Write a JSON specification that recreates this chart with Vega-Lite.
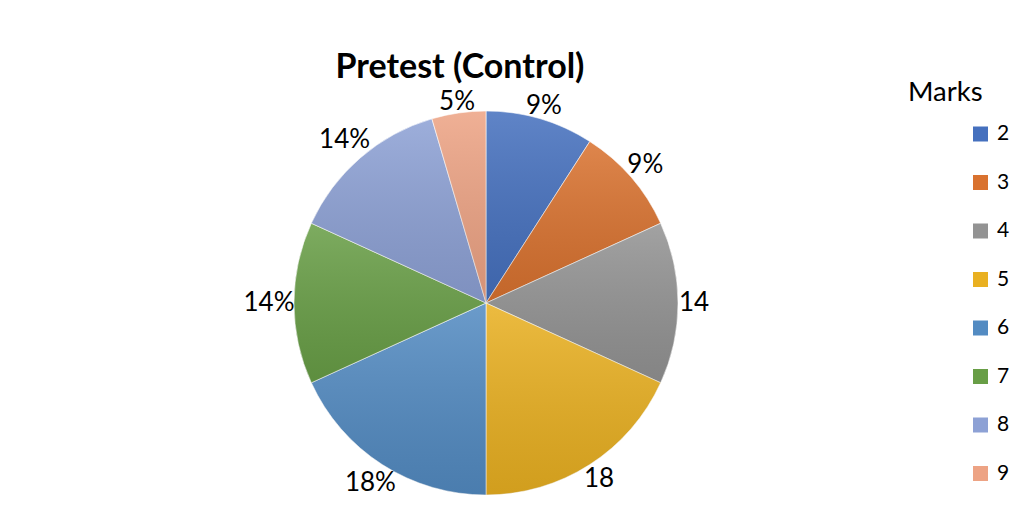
{
  "$schema": "https://vega.github.io/schema/vega-lite/v6.json",
  "autosize": "none",
  "width": 384,
  "height": 384,
  "padding": {"left": 294, "top": 111, "right": 345, "bottom": 22},
  "background": "white",
  "title": {
    "text": "Pretest (Control)",
    "frame": "group",
    "anchor": "middle",
    "orient": "top",
    "offset": 30,
    "dx": -26,
    "dy": 36,
    "font": "Lato",
    "fontSize": 34,
    "fontWeight": "bold",
    "color": "#000000"
  },
  "data": {
    "values": [
      {"Marks": "2", "Count": 2, "Label": "9%"},
      {"Marks": "3", "Count": 2, "Label": "9%"},
      {"Marks": "4", "Count": 3, "Label": "14"},
      {"Marks": "5", "Count": 4, "Label": "18"},
      {"Marks": "6", "Count": 4, "Label": "18%"},
      {"Marks": "7", "Count": 3, "Label": "14%"},
      {"Marks": "8", "Count": 3, "Label": "14%"},
      {"Marks": "9", "Count": 1, "Label": "5%"}
    ]
  },
  "encoding": {
    "theta": {"field": "Count", "type": "quantitative", "stack": true},
    "order": {"field": "Marks", "type": "ordinal"}
  },
  "layer": [
    {
      "mark": {"type": "arc", "stroke": "#ffffff", "strokeWidth": 0.6},
      "encoding": {
        "color": {
          "field": "Marks",
          "type": "nominal",
          "scale": {
            "domain": ["2", "3", "4", "5", "6", "7", "8", "9"],
            "range": ["#4570BE", "#D9722F", "#939393", "#E9B021", "#538BC2", "#689E46", "#8DA1D5", "#EDA384"]
          },
          "legend": {
            "title": "Marks",
            "orient": "none",
            "legendX": 614,
            "legendY": -32,
            "padding": 0,
            "titleFont": "Lato",
            "titleFontSize": 27.5,
            "titleFontWeight": "normal",
            "titleColor": "#000000",
            "titleAnchor": "start",
            "titlePadding": 17,
            "labelFont": "Lato",
            "labelFontSize": 21,
            "labelColor": "#000000",
            "labelOffset": 6,
            "symbolType": "square",
            "symbolSize": 225,
            "symbolStrokeWidth": 0,
            "symbolOffset": 62,
            "rowPadding": 26.5
          }
        }
      }
    },
    {
      "mark": {
        "type": "arc",
        "strokeWidth": 0,
        "fill": {
          "gradient": "linear",
          "x1": 0, "y1": 0, "x2": 0, "y2": 1,
          "stops": [
            {"offset": 0, "color": "rgba(255,255,255,0.14)"},
            {"offset": 1, "color": "rgba(0,0,0,0.10)"}
          ]
        }
      },
      "encoding": {}
    },
    {
      "mark": {
        "type": "text",
        "radius": {"expr": "190 + abs(sin(scale('theta', 0.5*datum.Count_start + 0.5*datum.Count_end))) * 9 * length(datum.Label) + abs(cos(scale('theta', 0.5*datum.Count_start + 0.5*datum.Count_end))) * 11"},
        "font": "Lato",
        "fontSize": 26,
        "color": "#000000",
        "align": "center",
        "baseline": "middle"
      },
      "encoding": {
        "text": {"field": "Label", "type": "nominal"}
      }
    }
  ],
  "config": {"view": {"stroke": null}}
}
